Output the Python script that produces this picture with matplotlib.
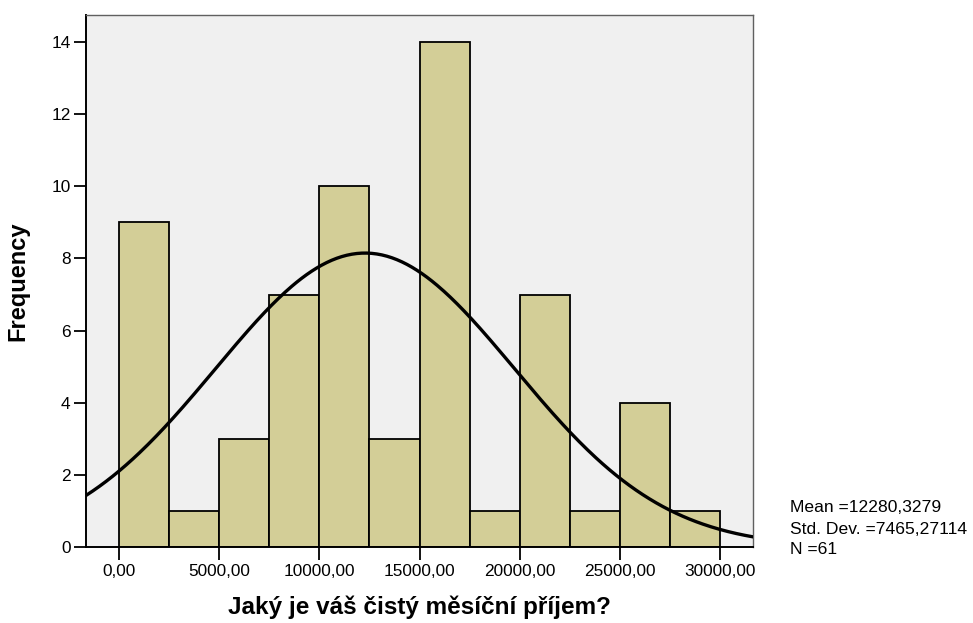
import numpy as np
import matplotlib
matplotlib.use("Agg")
import matplotlib.pyplot as plt

bin_edges = [0, 2500, 5000, 7500, 10000, 12500, 15000, 17500, 20000, 22500, 25000, 27500, 30000]
counts = [9, 1, 3, 7, 10, 3, 14, 1, 7, 1, 4, 1]
mean = 12280.3279
std = 7465.27114
n = 61
xticks = [0, 5000, 10000, 15000, 20000, 25000, 30000]
xticklabels = ["0,00", "5000,00", "10000,00", "15000,00", "20000,00", "25000,00", "30000,00"]
yticks = [0, 2, 4, 6, 8, 10, 12, 14]

plt.rcParams['font.family'] = ['Liberation Sans', 'DejaVu Sans']

fig = plt.figure(figsize=(9.73, 6.23), dpi=100)
W, H = 973, 623
ax = fig.add_axes([86 / W, (H - 547) / H, (753 - 86) / W, (547 - 15) / H])
ax.set_facecolor('#F0F0F0')

widths = np.diff(bin_edges)
ax.bar(bin_edges[:-1], counts, width=widths, align='edge', color='#D3CE97',
       edgecolor='black', linewidth=1.3, zorder=2)

xlim = (-1650, 31650)
xs = np.linspace(xlim[0], xlim[1], 400)
bw = bin_edges[1] - bin_edges[0]
ys = n * bw * np.exp(-0.5 * ((xs - mean) / std) ** 2) / (std * np.sqrt(2 * np.pi))
ax.plot(xs, ys, color='black', linewidth=2.4, zorder=3, clip_on=True)

ax.set_xlim(*xlim)
ax.set_ylim(0, 14.75)
ax.set_xticks(xticks)
ax.set_xticklabels(xticklabels, fontsize=12.4)
ax.set_yticks(yticks)
ax.set_yticklabels([str(v) for v in yticks], fontsize=12.4)
ax.tick_params(axis='x', direction='out', length=9, width=1.3, pad=3)
ax.tick_params(axis='y', direction='out', length=9, width=1.3, pad=2)

for s in ['left', 'bottom']:
    ax.spines[s].set_linewidth(1.4)
    ax.spines[s].set_color('black')
for s in ['top', 'right']:
    ax.spines[s].set_linewidth(1.0)
    ax.spines[s].set_color('#606060')

ax.set_xlabel('Jaký je váš čistý měsíční příjem?', fontsize=17.5, fontweight='bold', labelpad=12)
ax.set_ylabel('Frequency', fontsize=17, fontweight='bold', labelpad=16)

fig.text(790 / W, 1 - 508 / H, 'Mean =12280,3279', fontsize=12.6, va='center', ha='left')
fig.text(790 / W, 1 - 529 / H, 'Std. Dev. =7465,27114', fontsize=12.6, va='center', ha='left')
fig.text(790 / W, 1 - 549 / H, 'N =61', fontsize=12.6, va='center', ha='left')

fig.savefig('out.png', dpi=100)
